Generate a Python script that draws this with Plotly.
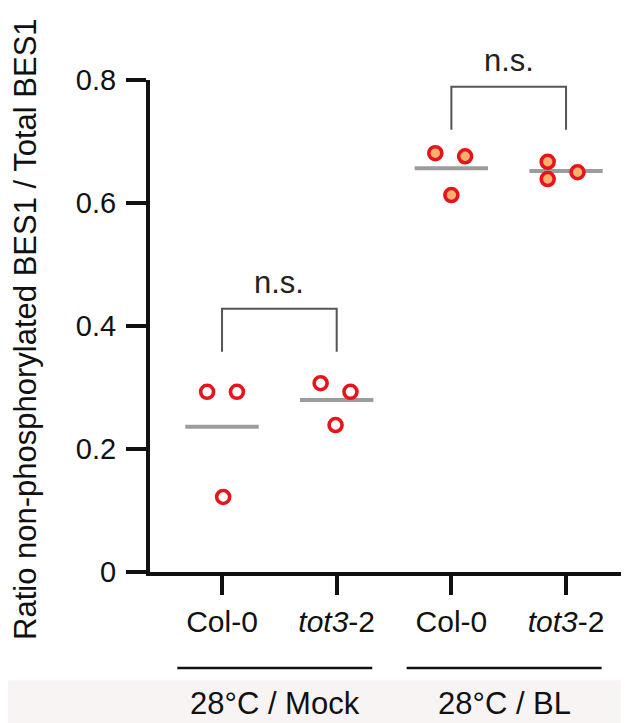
import numpy as np
import plotly.graph_objects as go

# ---- data ----
categories = ["Col-0", "<i>tot3</i>-2", "Col-0", "<i>tot3</i>-2"]
groups = ["28°C / Mock", "28°C / BL"]
mock_col0 = [0.293, 0.293, 0.122]
mock_tot3 = [0.307, 0.293, 0.239]
bl_col0 = [0.681, 0.676, 0.613]
bl_tot3 = [0.667, 0.639, 0.650]
series = [mock_col0, mock_tot3, bl_col0, bl_tot3]
jitter = [[-0.13, 0.13, 0.01], [-0.14, 0.12, -0.01], [-0.14, 0.12, 0.0], [-0.16, -0.16, 0.10]]
y_ticks = [0, 0.2, 0.4, 0.6, 0.8]
y_ticktext = ["0", "0.2", "0.4", "0.6", "0.8"]
comparisons = [(0, 1, 0.428, "n.s."), (2, 3, 0.789, "n.s.")]

FONT = "Liberation Sans, Arial, sans-serif"
RED = "#e8141c"
fills = ["white", "white", "#f7b170", "#f7b170"]

fig = go.Figure()

# mean lines
for i, vals in enumerate(series):
    m = float(np.mean(vals))
    fig.add_shape(type="line", xref="x", yref="y", x0=i - 0.32, x1=i + 0.32, y0=m, y1=m,
                  line=dict(color="#9c9c9c", width=4), layer="below")

# points
for i, vals in enumerate(series):
    xs = [i + j for j in jitter[i]]
    fig.add_trace(go.Scatter(
        x=xs, y=vals, mode="markers", showlegend=False, cliponaxis=False,
        marker=dict(size=13, color=fills[i], line=dict(color=RED, width=3.6)),
    ))

# brackets
for a, b, top, txt in comparisons:
    drop = 0.07
    fig.add_shape(type="path", xref="x", yref="y",
                  path=f"M {a},{top - drop} L {a},{top} L {b},{top} L {b},{top - drop}",
                  line=dict(color="#555555", width=2))
    fig.add_annotation(x=(a + b) / 2, y=top, xref="x", yref="y", text=txt, showarrow=False,
                       yanchor="bottom", yshift=7, font=dict(family=FONT, size=31, color="#222"))

# group underlines and labels
for g, name in enumerate(groups):
    c0, c1 = 2 * g, 2 * g + 1
    fig.add_shape(type="line", xref="x", yref="paper", x0=c0 - 0.39, x1=c1 + 0.31,
                  y0=-0.195, y1=-0.195, line=dict(color="#111", width=2.5))
    fig.add_annotation(x=(c0 + c1) / 2 - 0.04, y=-0.267, xref="x", yref="paper", text=name,
                       showarrow=False, yanchor="middle",
                       font=dict(family=FONT, size=31, color="#111"))

# faint band at bottom
fig.add_shape(type="rect", xref="paper", yref="paper", x0=-0.35, x1=1.05, y0=-0.22, y1=-0.35,
              fillcolor="#f9f4f4", line=dict(width=0), layer="below")

# y-axis title
fig.add_annotation(x=0, y=0.5, xref="paper", yref="paper", xshift=-125, yshift=-3, textangle=-90,
                   text="Ratio non-phosphorylated BES1 / Total BES1", showarrow=False,
                   xanchor="center", yanchor="middle",
                   font=dict(family=FONT, size=31, color="#111"))

fig.update_layout(
    width=621, height=715,
    margin=dict(l=142, r=0, t=72, b=151),
    paper_bgcolor="white", plot_bgcolor="white",
    font=dict(family=FONT, color="#111"),
    xaxis=dict(range=[-0.628, 3.549], tickvals=[0, 1, 2, 3], ticktext=categories,
               showgrid=False, zeroline=False, showline=True, linecolor="#111", linewidth=4,
               ticks="outside", ticklen=19, tickwidth=4, tickcolor="#111",
               ticklabelstandoff=1, tickfont=dict(family=FONT, size=30, color="#111")),
    yaxis=dict(range=[0, 0.8], tickvals=y_ticks, ticktext=y_ticktext,
               showgrid=False, zeroline=False, showline=True, linecolor="#111", linewidth=4,
               ticks="outside", ticklen=20, tickwidth=4, tickcolor="#111",
               ticklabelstandoff=4, tickfont=dict(family=FONT, size=29, color="#111")),
)

fig.write_html("out.html")
